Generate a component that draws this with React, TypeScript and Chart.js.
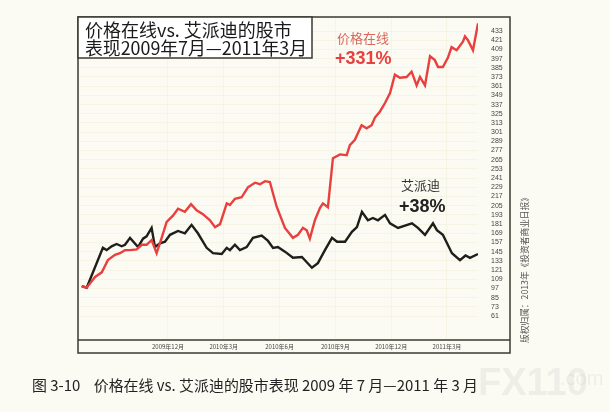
import React, { useEffect, useRef } from 'react';
import { Chart, registerables } from 'chart.js';

Chart.register(...registerables);

// x = months since 2009-07-01
const priceMonths = [
  0.36, 0.63, 1.08, 1.44, 1.77, 2.15, 2.42, 2.69, 2.96, 3.32, 3.59, 3.85, 4.12, 4.39, 4.66, 4.93,
  5.27, 5.54, 5.91, 6.24, 6.54, 6.88, 7.26, 7.53, 7.8, 8.16, 8.33, 8.6, 8.96, 9.3, 9.68, 9.95,
  10.22, 10.48, 10.84, 11.29, 11.72, 11.99, 12.26, 12.46, 12.63, 12.9, 13.17, 13.33, 13.6, 13.87,
  14.25, 14.61, 14.78, 15.05, 15.41, 15.68, 15.95, 16.13, 16.4, 16.67, 16.94, 17.2, 17.47, 17.83,
  18.1, 18.37, 18.55, 18.82, 19.09, 19.35, 19.52, 19.78, 20.05, 20.25, 20.52, 20.86, 20.97, 21.13,
  21.4, 21.67,
];
const priceValues = [
  100, 98, 112, 118, 134, 141, 143, 147, 147, 148, 154, 154, 160, 143, 163, 184,
  192, 201, 197, 207, 199, 194, 186, 177, 181, 208, 206, 214, 216, 229, 235, 233,
  237, 236, 204, 176, 163, 167, 176, 173, 162, 186, 202, 208, 203, 267,
  272, 271, 284, 291, 310, 306, 310, 320, 328, 339, 352, 376, 372, 373,
  380, 362, 373, 362, 400, 395, 386, 386, 398, 412, 408, 419, 426, 421,
  408, 443,
];
const expediaMonths = [
  0.36, 0.63, 1.5, 1.7, 1.97, 2.24, 2.51, 2.69, 2.96, 3.39, 3.66, 3.85, 4.12, 4.3, 4.57, 4.84,
  5.11, 5.54, 5.91, 6.27, 6.61, 7.08, 7.42, 7.89, 8.16, 8.33, 8.6, 8.87, 9.23, 9.57, 10.04,
  10.38, 10.65, 10.91, 11.29, 11.72, 12.2, 12.74, 13.06, 13.44, 13.82, 14.09, 14.52, 14.89,
  15.16, 15.43, 15.75, 16.02, 16.29, 16.67, 16.94, 17.37, 18.12, 18.44, 18.82, 19.25, 19.46,
  19.78, 20.27, 20.7, 21.0, 21.24, 21.67,
];
const expediaValues = [
  100, 98, 150, 147, 152, 155, 152, 154, 163, 151, 162, 165, 176, 151, 156, 158,
  167, 172, 169, 180, 169, 150, 143, 142, 150, 147, 154, 147, 151, 163, 166,
  159, 150, 151, 145, 137, 138, 124, 130, 147, 163, 158, 158, 171,
  177, 197, 186, 189, 186, 193, 182, 176, 182, 176, 167, 182, 173,
  167, 143, 134, 140, 137, 142,
];

const yTickValues = [
  61, 73, 85, 97, 109, 121, 133, 145, 157, 169, 181, 193, 205, 217, 229, 241,
  253, 265, 277, 289, 301, 313, 325, 337, 349, 361, 373, 385, 397, 409, 421, 433,
];
const xTickMonths = [5, 8, 11, 14, 17, 20];
const xTickLabels = ['2009年12月', '2010年3月', '2010年6月', '2010年9月', '2010年12月', '2011年3月'];

const CJK = '"Noto Sans CJK SC", "Noto Sans", sans-serif';

const decorPlugin = {
  id: 'decor',
  beforeDraw(chart: any) {
    const { ctx, width, height } = chart;
    ctx.save();
    ctx.fillStyle = '#fcfbf3';
    ctx.fillRect(0, 0, width, height);
    ctx.restore();
  },
  afterDraw(chart: any) {
    const { ctx, chartArea } = chart;
    const boxL = 78;
    const boxT = 17;
    const boxR = 510;
    const boxB = 353;
    ctx.save();

    // outer frame and x-axis separator
    ctx.strokeStyle = '#3a3a30';
    ctx.lineWidth = 1.5;
    ctx.strokeRect(boxL, boxT, boxR - boxL, boxB - boxT);
    ctx.beginPath();
    ctx.moveTo(boxL, chartArea.bottom);
    ctx.lineTo(boxR, chartArea.bottom);
    ctx.stroke();

    // title box
    ctx.fillStyle = '#ffffff';
    ctx.fillRect(boxL, boxT, 234, 41);
    ctx.strokeRect(boxL, boxT, 234, 41);
    ctx.fillStyle = '#1a1a1a';
    ctx.font = `18px ${CJK}`;
    ctx.textBaseline = 'alphabetic';
    ctx.textAlign = 'left';
    ctx.fillText('价格在线vs. 艾派迪的股市', 85, 37, 218);
    ctx.fillText('表现2009年7月—2011年3月', 85, 55, 222);

    // series annotations
    ctx.fillStyle = '#d9675f';
    ctx.font = `13px ${CJK}`;
    ctx.fillText('价格在线', 337, 43);
    ctx.fillStyle = '#e8403f';
    ctx.font = 'bold 18px "Liberation Sans", Arial, sans-serif';
    ctx.fillText('+331%', 335, 64);

    ctx.fillStyle = '#333';
    ctx.font = `13px ${CJK}`;
    ctx.fillText('艾派迪', 401, 190);
    ctx.fillStyle = '#222';
    ctx.font = 'bold 18px "Liberation Sans", Arial, sans-serif';
    ctx.fillText('+38%', 399, 212);

    // vertical credit
    ctx.save();
    ctx.translate(525, 343);
    ctx.rotate(-Math.PI / 2);
    ctx.fillStyle = '#555';
    ctx.font = `9px ${CJK}`;
    ctx.fillText('版权归属：2013年《投资者商业日报》', 0, 3, 150);
    ctx.restore();

    // watermark
    ctx.fillStyle = 'rgba(205,205,205,0.3)';
    ctx.font = 'bold 38px "Liberation Sans", Arial, sans-serif';
    ctx.fillText('FX110', 478, 395);
    ctx.font = '20px "Liberation Sans", Arial, sans-serif';
    ctx.fillText('.com', 560, 385);

    // caption
    ctx.fillStyle = '#222';
    ctx.font = `15px ${CJK}`;
    ctx.fillText('图 3-10    价格在线 vs. 艾派迪的股市表现 2009 年 7 月—2011 年 3 月', 32, 391, 446);

    ctx.restore();
  },
};

export default function App() {
  const canvasRef = useRef<HTMLCanvasElement>(null);

  useEffect(() => {
    document.body.style.margin = '0';
    if (!canvasRef.current) return;
    const chart = new Chart(canvasRef.current, {
      type: 'line',
      data: {
        datasets: [
          {
            label: '价格在线',
            data: priceMonths.map((m, i) => ({ x: m, y: priceValues[i] })),
            borderColor: '#e8403f',
            borderWidth: 2.4,
            pointRadius: 0,
            tension: 0,
          },
          {
            label: '艾派迪',
            data: expediaMonths.map((m, i) => ({ x: m, y: expediaValues[i] })),
            borderColor: '#1e1e1a',
            borderWidth: 2.4,
            pointRadius: 0,
            tension: 0,
          },
        ],
      },
      options: {
        responsive: false,
        animation: false,
        devicePixelRatio: 1,
        layout: { padding: { left: 80, top: 18, right: 100, bottom: 59 } },
        plugins: {
          legend: { display: false },
          tooltip: { enabled: false },
        },
        scales: {
          x: {
            type: 'linear',
            min: 0.27,
            max: 21.67,
            afterBuildTicks: (scale: any) => {
              scale.ticks = xTickMonths.map((v) => ({ value: v }));
            },
            afterFit: (scale: any) => {
              scale.height = 13;
            },
            grid: { color: 'rgba(240,237,212,0.45)', drawTicks: false },
            border: { display: false },
            ticks: {
              padding: 3,
              maxRotation: 0,
              autoSkip: false,
              color: '#444',
              font: { size: 6, family: CJK },
              callback: (_v: any, i: number) => xTickLabels[i],
            },
          },
          y: {
            position: 'right',
            min: 29.7,
            max: 450,
            afterBuildTicks: (scale: any) => {
              scale.ticks = yTickValues.map((v) => ({ value: v }));
            },
            afterFit: (scale: any) => {
              scale.width = 32;
            },
            grid: { color: 'rgba(240,237,212,0.45)', drawTicks: false },
            border: { display: false },
            ticks: {
              padding: 13,
              autoSkip: false,
              color: '#444',
              font: { size: 7, family: '"Liberation Sans", Arial, sans-serif' },
            },
          },
        },
      },
      plugins: [decorPlugin],
    });
    return () => chart.destroy();
  }, []);

  return (
    <div style={{ width: 610, height: 412 }}>
      <canvas ref={canvasRef} width={610} height={412} />
    </div>
  );
}
